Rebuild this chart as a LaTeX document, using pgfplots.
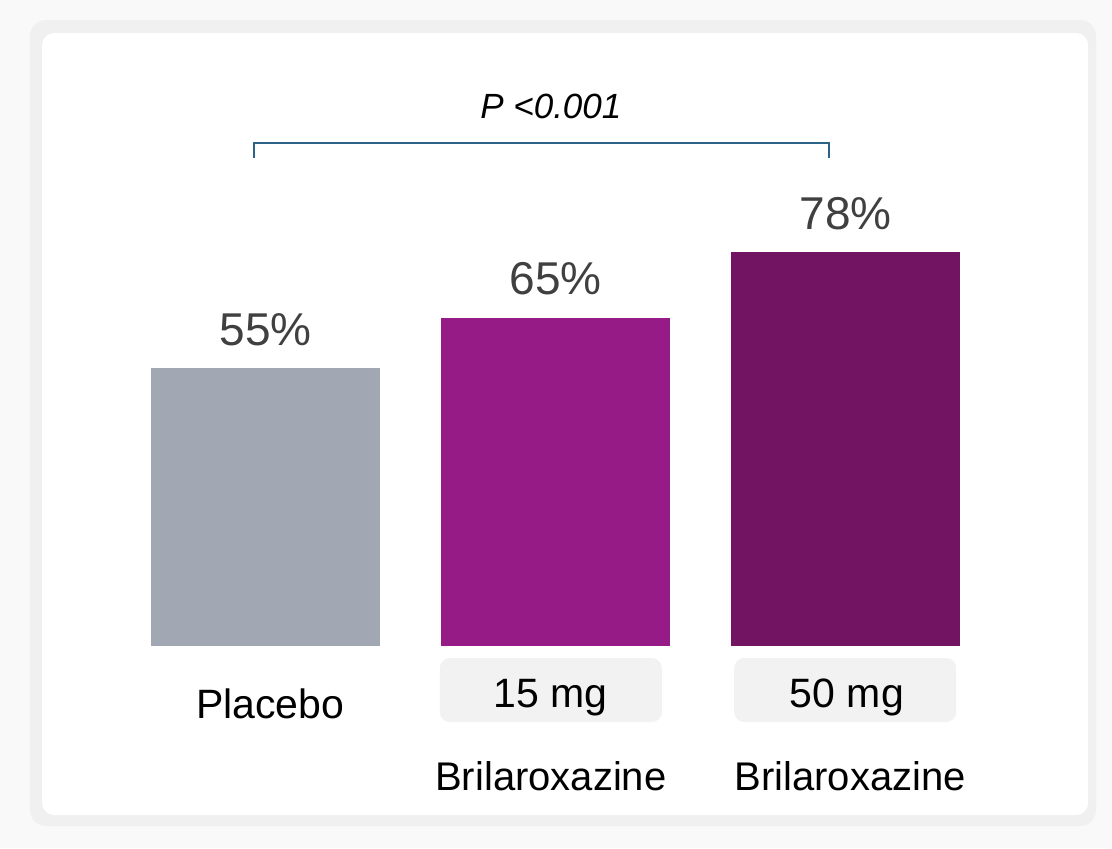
\documentclass[border=0pt]{standalone}
\usepackage{fontspec}
\setmainfont{Liberation Sans}
\usepackage{pgfplots}
\pgfplotsset{compat=1.18}

\definecolor{pagebg}{HTML}{F9F9F9}
\definecolor{shadowbg}{HTML}{F0F0F0}
\definecolor{placebo}{HTML}{A2A8B3}
\definecolor{doselow}{HTML}{961B87}
\definecolor{dosehigh}{HTML}{721462}
\definecolor{valgray}{HTML}{404040}
\definecolor{boxgray}{HTML}{F2F2F2}
\definecolor{bracket}{HTML}{2C6389}

\begin{document}
\begin{tikzpicture}
% card background, in pixel units of the reference
\begin{scope}[x=0.5pt,y=-0.5pt]
  \useasboundingbox (0,0) rectangle (1112,848);
  \fill[pagebg] (0,0) rectangle (1112,848);
  \fill[shadowbg, rounded corners=8pt] (30,20) rectangle (1096,826);
  \fill[white, rounded corners=6pt] (42,33) rectangle (1088,815);
\end{scope}

\begin{axis}[
    at={(60.25pt,-323pt)}, anchor=south west,
    scale only axis,
    width=435pt, height=252.5pt,
    xmin=-0.5, xmax=2.5,
    ymin=0, ymax=100,
    hide axis,
    clip=false,
    ybar,
    bar width=114.5pt,
    bar shift=0pt,
    /pgf/number format/assume math mode=true,
    nodes near coords={\pgfmathprintnumber{\pgfplotspointmeta}\%},
    every node near coord/.append style={
        font=\fontsize{23}{27}\selectfont, text=valgray,
        anchor=south, inner sep=0pt, yshift=11pt},
]
\addplot[fill=placebo, draw=none] coordinates {(0,55)};
\addplot[fill=doselow, draw=none] coordinates {(1,65)};
\addplot[fill=dosehigh, draw=none] coordinates {(2,78)};

% significance bracket
\draw[bracket, line width=0.8pt]
    (axis cs:-0.040,96.6) -- (axis cs:-0.040,99.6) -- (axis cs:1.943,99.6) -- (axis cs:1.943,96.6);
\node[font=\fontsize{17.5}{21}\itshape\selectfont, anchor=base]
    at (axis cs:0.984,104.55) {P <0.001};

% category labels
\node[font=\fontsize{20.5}{24}\selectfont, anchor=base, yshift=-36pt]
    at (axis cs:0.016,0) {Placebo};
\node[fill=boxgray, rounded corners=5pt, minimum width=111pt, minimum height=32pt, inner sep=0pt, yshift=-22pt]
    at (axis cs:0.984,0) {};
\node[font=\fontsize{20.5}{24}\selectfont, anchor=base, yshift=-30.5pt]
    at (axis cs:0.984,0) {15 mg};
\node[font=\fontsize{20}{24}\selectfont, anchor=base, yshift=-72pt]
    at (axis cs:0.984,0) {Brilaroxazine};
\node[fill=boxgray, rounded corners=5pt, minimum width=111pt, minimum height=32pt, inner sep=0pt, yshift=-22pt]
    at (axis cs:1.999,0) {};
\node[font=\fontsize{20.5}{24}\selectfont, anchor=base, yshift=-30.5pt]
    at (axis cs:2.005,0) {50 mg};
\node[font=\fontsize{20}{24}\selectfont, anchor=base, yshift=-72pt]
    at (axis cs:2.016,0) {Brilaroxazine};
\end{axis}
\end{tikzpicture}
\end{document}
